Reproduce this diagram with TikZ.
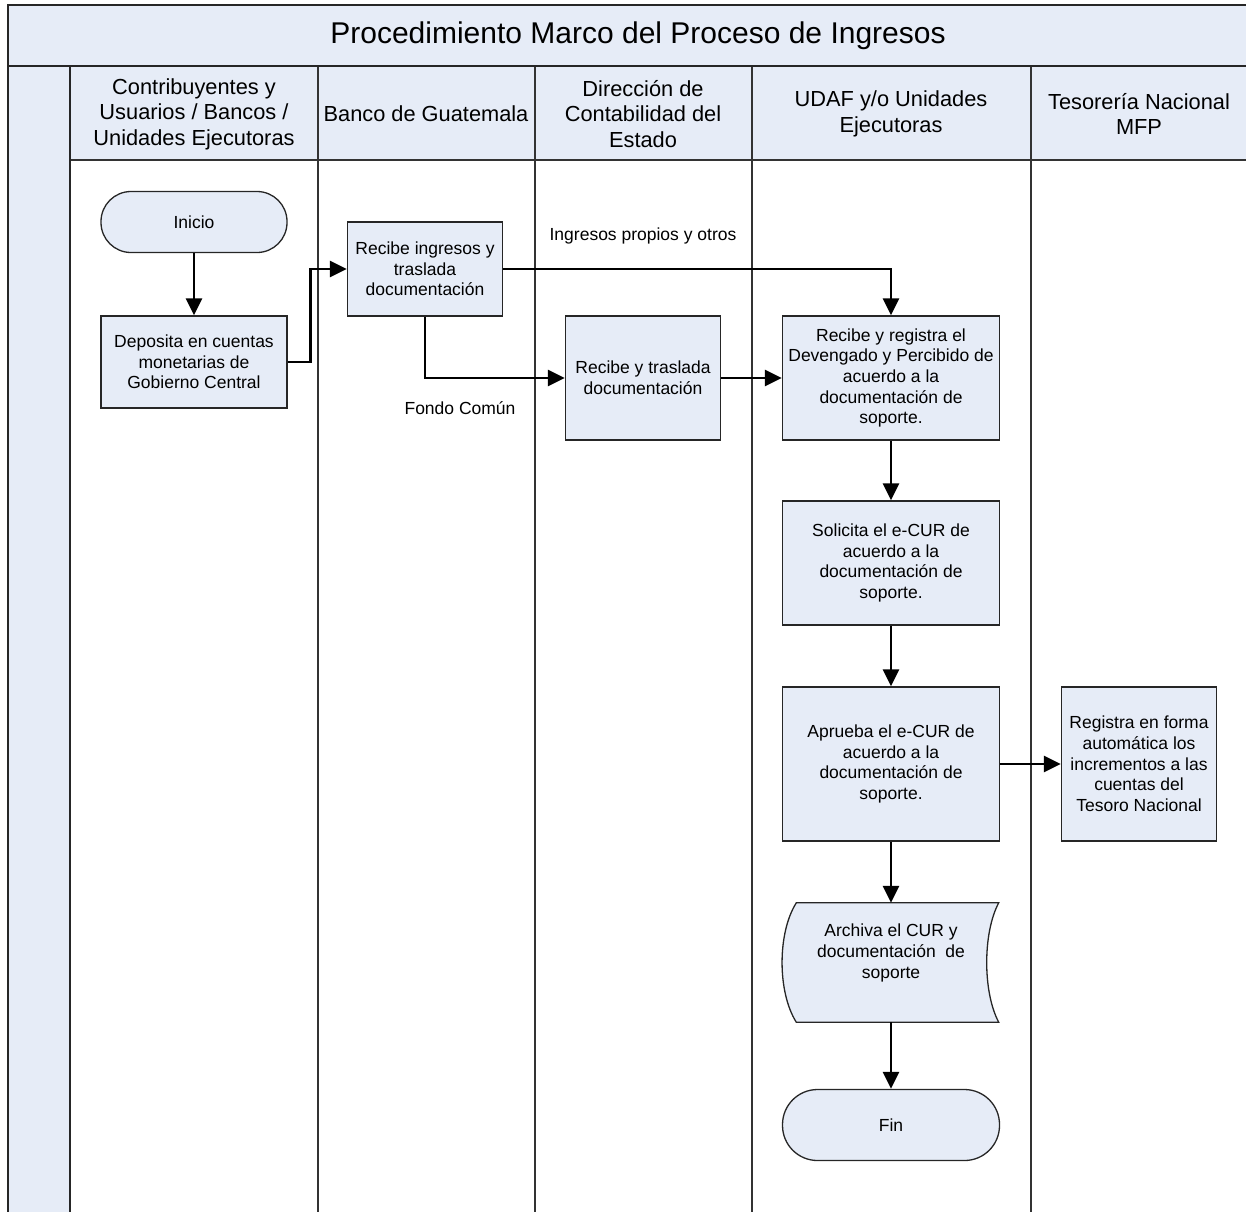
\documentclass[tikz,border=0pt]{standalone}
\usepackage{fontspec}
\setmainfont{Liberation Sans}
\usetikzlibrary{arrows.meta,backgrounds}
\definecolor{lanefill}{RGB}{230,236,247}
\tikzset{
  frameline/.style={draw=black!85, line width=1.8pt},
  laneline/.style={draw=black!80, line width=1.5pt},
  hdr/.style={align=center, inner sep=0pt, font=\fontsize{21.8}{25.5}\selectfont},
  box/.style={draw=black!85, line width=1.3pt, fill=lanefill, align=center, inner sep=0pt,
              font=\fontsize{17.5}{20.7}\selectfont},
  term/.style={box},
  lbl/.style={align=center, inner sep=0pt, font=\fontsize{17.5}{20.7}\selectfont},
  flow/.style={line width=2.9pt, -{Triangle[length=17pt,width=16pt]}},
}
\begin{document}
\begin{tikzpicture}[x=1pt,y=-1pt]
\clip (0,0) rectangle (1246,1211);
% frame fills
\fill[lanefill] (8,5) rectangle (1270,66);
\fill[lanefill] (70,66) rectangle (1270,160);
\fill[lanefill] (8,66) rectangle (70,1220);
% lane lines
\draw[laneline] (70,160) -- (1270,160);
\foreach \xx in {318,535,752,1031} \draw[laneline] (\xx,66) -- (\xx,1220);
\draw[frameline] (8,66) -- (1270,66);
\draw[frameline] (70,66) -- (70,1220);
\draw[frameline] (8,1220) -- (8,5) -- (1270,5);
% title and headers
\node[inner sep=0pt, font=\fontsize{30}{34}\selectfont] (title) at (638,36) {Procedimiento Marco del Proceso de Ingresos};
\node[hdr] (h1) at (194,114) {Contribuyentes y\\Usuarios / Bancos /\\Unidades Ejecutoras};
\node[hdr] (h2) at (426,114) {Banco de Guatemala};
\node[hdr] (h3) at (643,114) {Dirección de\\Contabilidad del\\Estado};
\node[hdr] (h4) at (891,114) {UDAF y/o Unidades\\Ejecutoras};
\node[hdr] (h5) at (1139,114) {Tesorería Nacional\\MFP};
% nodes
\node[term, minimum width=186, minimum height=61, rounded corners=30pt] (inicio) at (194,222) {Inicio};
\node[box, minimum width=186, minimum height=92] (deposita) at (194,362) {Deposita en cuentas\\monetarias de\\Gobierno Central};
\node[box, minimum width=155, minimum height=94] (ring) at (425,269) {Recibe ingresos y\\traslada\\documentación};
\node[box, minimum width=155, minimum height=124] (traslada) at (643,378) {Recibe y traslada\\documentación};
\node[box, minimum width=217, minimum height=124] (registra) at (891,378) {Recibe y registra el\\Devengado y Percibido de\\acuerdo a la\\documentación de\\soporte.};
\node[box, minimum width=217, minimum height=124] (solicita) at (891,563) {Solicita el e-CUR de\\acuerdo a la\\documentación de\\soporte.};
\node[box, minimum width=217, minimum height=154] (aprueba) at (891,764) {Aprueba el e-CUR de\\acuerdo a la\\documentación de\\soporte.};
\node[box, minimum width=155, minimum height=154] (tesoro) at (1139,764) {Registra en forma\\automática los\\incrementos a las\\cuentas del\\Tesoro Nacional};
\node[inner sep=0pt, minimum width=217, minimum height=119] (archiva) at (891,962.5) {};
\begin{scope}[on background layer]
\draw[draw=black!85, line width=1.3pt, fill=lanefill]
  ([xshift=14pt]archiva.north west) -- ([xshift=-1pt]archiva.north east)
  .. controls ([xshift=-17pt,yshift=-30pt]archiva.north east) and ([xshift=-17pt,yshift=30pt]archiva.south east) .. ([xshift=-1pt]archiva.south east)
  -- ([xshift=14pt]archiva.south west)
  .. controls ([xshift=-5pt,yshift=30pt]archiva.south west) and ([xshift=-5pt,yshift=-30pt]archiva.north west) .. ([xshift=14pt]archiva.north west) -- cycle;
\end{scope}
\node[lbl] (archivatxt) at (891,953) {Archiva el CUR y\\documentación~ de\\soporte};
\node[term, minimum width=217, minimum height=71, rounded corners=35pt] (fin) at (891,1125) {Fin};
% labels
\node[lbl] (l1) at (643,236) {Ingresos propios y otros};
\node[lbl] (l2) at (460,408) {Fondo Común};
% connectors
\draw[flow] (inicio) -- (deposita);
\draw[flow] (deposita.east) -- ++(23,0) |- (ring.west);
\draw[flow] (ring.east) -| (registra.north);
\draw[flow] (ring.south) |- (traslada.west);
\draw[flow] (traslada) -- (registra);
\draw[flow] (registra) -- (solicita);
\draw[flow] (solicita) -- (aprueba);
\draw[flow] (aprueba) -- (tesoro);
\draw[flow] (aprueba) -- (archiva);
\draw[flow] (archiva) -- (fin);
\end{tikzpicture}
\end{document}
